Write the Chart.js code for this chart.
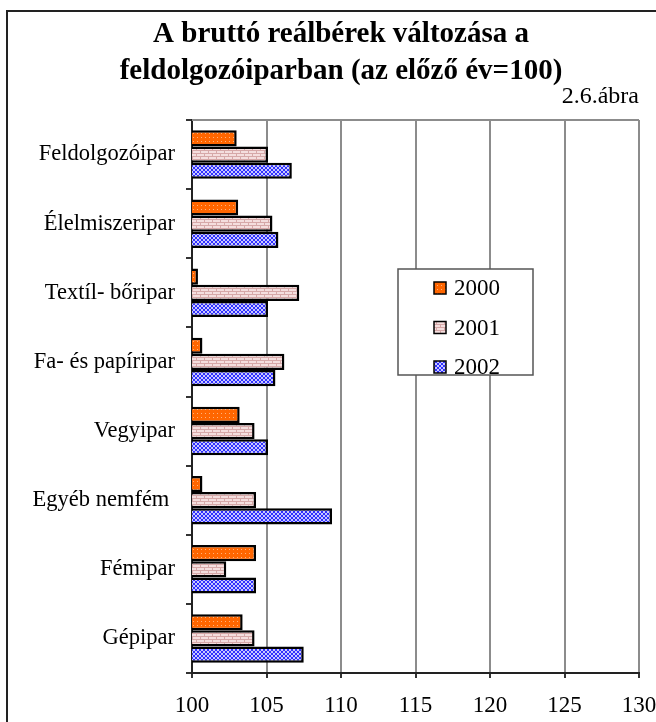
<!DOCTYPE html>
<html>
<head>
<meta charset="utf-8">
<script src="https://cdn.jsdelivr.net/npm/chart.js@4/dist/chart.umd.min.js"></script>
<style>
  html, body { margin: 0; padding: 0; background: #fff; overflow: hidden; }
  canvas { display: block; }
</style>
</head>
<body>
<canvas id="barChart" width="656" height="722"></canvas>
<script>
// =====================================
// Data
// =====================================
const categories = [
    "Feldolgozóipar",
    "Élelmiszeripar",
    "Textíl- bőripar",
    "Fa- és papíripar",
    "Vegyipar",
    "Egyéb nemfém ",
    "Fémipar",
    "Gépipar"
];
const seriesLabels = ["2000", "2001", "2002"];
const values2000 = [103.0, 103.1, 100.4, 100.7, 103.2, 100.7, 104.3, 103.4];
const values2001 = [105.1, 105.4, 107.2, 106.2, 104.2, 104.3, 102.3, 104.2];
const values2002 = [106.7, 105.8, 105.1, 105.6, 105.1, 109.4, 104.3, 107.5];
const xTicks = [100, 105, 110, 115, 120, 125, 130];

const titleLines = ["A bruttó reálbérek változása a", "feldolgozóiparban (az előző év=100)"];
const subtitleText = "2.6.ábra";

const SERIF = "'Liberation Serif', 'Times New Roman', serif";

// =====================================
// Fill patterns (Excel style hatching)
// =====================================
function makePattern(w, h, bg, drawFn) {
    const c = document.createElement("canvas");
    c.width = w;
    c.height = h;
    const g = c.getContext("2d");
    g.fillStyle = bg;
    g.fillRect(0, 0, w, h);
    drawFn(g);
    return g.createPattern(c, "repeat");
}

// orange with light dots
const pattern2000 = makePattern(4, 4, "#ff6600", g => {
    g.fillStyle = "#ffb27a";
    g.fillRect(1, 1, 1, 1);
});
// pale pink with brick lines
const pattern2001 = makePattern(8, 6, "#f4dede", g => {
    g.fillStyle = "#d6a8a8";
    g.fillRect(0, 0, 8, 1);
    g.fillRect(0, 3, 8, 1);
    g.fillRect(0, 1, 1, 2);
    g.fillRect(4, 4, 1, 2);
});
// blue with fine white cross hatch
const pattern2002 = makePattern(4, 4, "#3030ff", g => {
    g.fillStyle = "#c8c8ff";
    for (let i = 0; i < 4; i++) {
        g.fillRect(i, i, 1, 1);
        g.fillRect(i, 3 - i, 1, 1);
    }
});
const seriesPatterns = [pattern2000, pattern2001, pattern2002];

// =====================================
// Plugins: frame, plot top line, legend box
// =====================================
const framePlugin = {
    id: "frame",
    afterLayout(chart) {
        // let the long category names run past the layout padding
        chart.scales.y.left = 8;
    },
    beforeDraw(chart) {
        const ctx = chart.ctx;
        ctx.save();
        ctx.strokeStyle = "#222";
        ctx.lineWidth = 2;
        ctx.beginPath();
        ctx.moveTo(7, chart.height);
        ctx.lineTo(7, 11);
        ctx.lineTo(chart.width, 11);
        ctx.stroke();
        ctx.restore();
    },
    afterDatasetsDraw(chart) {
        const a = chart.chartArea;
        const ctx = chart.ctx;
        ctx.save();
        ctx.strokeStyle = "#8c8c8c";
        ctx.lineWidth = 2;
        ctx.beginPath();
        ctx.moveTo(a.left, a.top);
        ctx.lineTo(a.right, a.top);
        ctx.stroke();
        ctx.restore();
    }
};

const boxLegendPlugin = {
    id: "boxLegend",
    afterDraw(chart) {
        const ctx = chart.ctx;
        const box = { x: 398, y: 269, w: 135, h: 106 };
        ctx.save();
        ctx.fillStyle = "#fff";
        ctx.fillRect(box.x, box.y, box.w, box.h);
        ctx.strokeStyle = "#555";
        ctx.lineWidth = 1.5;
        ctx.strokeRect(box.x, box.y, box.w, box.h);

        ctx.font = "23px " + SERIF;
        ctx.textBaseline = "middle";
        ctx.textAlign = "left";
        chart.data.datasets.forEach((ds, i) => {
            const cy = box.y + 19 + i * 39.5;
            ctx.fillStyle = ds.backgroundColor;
            ctx.fillRect(434, cy - 6, 12, 12);
            ctx.strokeStyle = "#000";
            ctx.lineWidth = 1.5;
            ctx.strokeRect(434, cy - 6, 12, 12);
            ctx.fillStyle = "#000";
            ctx.fillText(ds.label, 454, cy + 1);
        });
        ctx.restore();
    }
};

// =====================================
// Chart
// =====================================
Chart.defaults.color = "#000";
Chart.defaults.font.family = SERIF;

const ctx = document.getElementById("barChart").getContext("2d");
new Chart(ctx, {
    type: "bar",
    data: {
        labels: categories,
        datasets: [
            { label: seriesLabels[0], data: values2000, backgroundColor: seriesPatterns[0] },
            { label: seriesLabels[1], data: values2001, backgroundColor: seriesPatterns[1] },
            { label: seriesLabels[2], data: values2002, backgroundColor: seriesPatterns[2] }
        ]
    },
    options: {
        indexAxis: "y",
        responsive: false,
        animation: false,
        datasets: {
            bar: {
                borderColor: "#000",
                borderWidth: 2.5,
                borderSkipped: false,
                barPercentage: 1.0,
                categoryPercentage: 0.70
            }
        },
        layout: {
            padding: { left: 43, right: 17, top: 13, bottom: 0 }
        },
        plugins: {
            legend: { display: false },
            tooltip: { enabled: false },
            title: {
                display: true,
                text: titleLines,
                align: "center",
                font: { size: 29, weight: "bold", lineHeight: 37 / 29 },
                padding: { top: 3, bottom: -2 }
            },
            subtitle: {
                display: true,
                text: subtitleText,
                align: "end",
                font: { size: 24, lineHeight: 0.75 },
                padding: { top: 0, bottom: 14 }
            }
        },
        scales: {
            x: {
                type: "linear",
                position: "bottom",
                min: xTicks[0],
                max: xTicks[xTicks.length - 1],
                afterBuildTicks(scale) {
                    scale.ticks = xTicks.map(v => ({ value: v }));
                },
                afterFit(scale) {
                    scale.height = 49;
                    scale.paddingLeft = 0;
                    scale.paddingRight = 17;
                },
                grid: {
                    color: "#8c8c8c",
                    lineWidth: 2,
                    tickColor: "#333",
                    tickLength: 5,
                    drawTicks: true
                },
                border: { display: true, color: "#222", width: 2 },
                ticks: {
                    font: { size: 23 },
                    padding: 14,
                    maxRotation: 0
                }
            },
            y: {
                type: "category",
                afterFit(scale) {
                    scale.width = 149;
                },
                grid: {
                    offset: true,
                    drawOnChartArea: false,
                    drawTicks: true,
                    tickLength: 6,
                    tickColor: "#333",
                    lineWidth: 2
                },
                border: { display: true, color: "#222", width: 2 },
                ticks: {
                    font: { size: 22.5 },
                    padding: 11
                }
            }
        }
    },
    plugins: [framePlugin, boxLegendPlugin]
});
</script>
</body>
</html>
